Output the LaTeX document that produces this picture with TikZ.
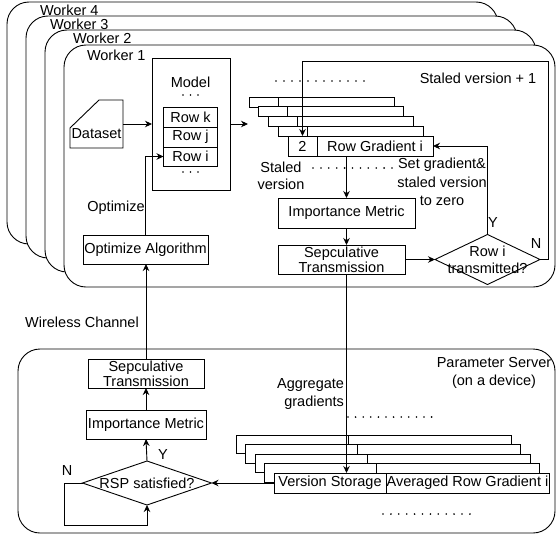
\documentclass[tikz,border=0pt]{standalone}
\usepackage{fontspec}
\setmainfont{Liberation Sans}
\usetikzlibrary{shapes.geometric,arrows.meta}
\begin{document}
\begin{tikzpicture}[x=1pt,y=-1pt, line width=0.9pt,
  every node/.style={font=\fontsize{14.5}{17}\selectfont, inner sep=0pt, outer sep=0pt},
  frame/.style={draw, fill=white, rounded corners=22pt, anchor=north west},
  wframe/.style={frame, minimum width=491, minimum height=242},
  box/.style={draw, fill=white, rectangle},
  dec/.style={draw, fill=white, diamond},
  arr/.style={-{Stealth[length=7pt,width=6.5pt]}},
  tight/.style={align=center, font=\fontsize{14.5}{15}\selectfont},
  layer/.style={draw, fill=white},
  dot/.style={fill=black},
]
\useasboundingbox (0,0) rectangle (556,538);

% ---- worker frames (back to front)
\node[wframe] (w4) at (7,2) {};
\node[anchor=base west] (w4l) at (40,15) {Worker 4};
\node[wframe] (w3) at (26,16) {};
\node[anchor=base west] (w3l) at (50,29) {Worker 3};
\node[wframe] (w2) at (45,30) {};
\node[anchor=base west] (w2l) at (73,43) {Worker 2};
\node[wframe] (w1) at (64,45) {};
\node[anchor=base west] (w1l) at (87,60) {Worker 1};

% ---- dataset
\node[minimum width=53, minimum height=48] (dataset) at (96.5,124) {};
\draw (70,128) -- (99,100) -- (123,100) -- (123,148) -- (70,148) -- cycle;
\node (datasettxt) at (96.5,134) {Dataset};

% ---- model
\node[box, minimum width=78, minimum height=132] (model) at (191,124) {};
\node (modeltxt) at (190.5,82) {Model};
\foreach \x in {183,190.5,198} \fill[dot] (\x,95) circle (0.9);
\node[box, minimum width=54, minimum height=20] (rowk) at (190.5,117) {Row k};
\node[box, minimum width=54, minimum height=20] (rowj) at (190.5,137) {Row j};
\node[box, minimum width=54, minimum height=19] (rowi) at (190.5,156.5) {Row i};
\foreach \x in {183,190.5,198} \fill[dot] (\x,172) circle (0.9);

\draw[arr] (dataset.east) -- (model.west);
\coordinate (stk) at (248,124);
\draw[arr] (model.east) -- (stk);

% ---- worker row-gradient stack
\foreach \x/\y in {249/97, 258.7/106.7, 268.4/116.4, 278.1/126.1} {
  \draw[layer] (\x,\y) rectangle ++(145,10);
  \draw (\x+29,\y) -- ++(0,10);
}
\node[box, minimum width=29, minimum height=20] (two) at (302.5,146) {2};
\node[box, minimum width=116, minimum height=20] (rowgrad) at (375,146) {Row Gradient i};
\foreach \i in {0,...,11} \fill[dot] (276+\i*8,81) circle (0.9);
\foreach \i in {0,...,10} \fill[dot] (313+\i*7.9,168) circle (0.9);

\node (stv1) at (478,78) {Staled version + 1};
\node[align=center, font=\fontsize{14.5}{17.5}\selectfont] (stv) at (281,176) {Staled\\version};
\node[align=center, font=\fontsize{14.5}{18.5}\selectfont] (setg) at (442,182) {Set gradient\&\\staled version\\to zero};

% ---- worker flow
\node[box, minimum width=137, minimum height=30] (wim) at (346.5,213) {Importance Metric};
\node[box, tight, minimum width=127, minimum height=29] (wst) at (341.5,259.5) {Sepculative\\Transmission};
\node[dec, minimum width=105, minimum height=50] (wdec) at (487.5,259.5) {};
\node[align=center, font=\fontsize{14.5}{17}\selectfont] (wdectxt) at (wdec) {Row i\\transmitted?};
\node (wy) at (493,223) {Y};
\node (wn) at (536,244) {N};

\node[box, minimum width=125, minimum height=29] (opt) at (145.5,249.5) {Optimize Algorithm};
\node (opttxt) at (116,208) {Optimize};

\coordinate (nt) at (548,61);
\draw[arr] (wdec.east) -| (nt) -| (two.north);
\draw[arr] (wdec.north) |- (rowgrad.east);
\draw[arr] (rowgrad.south -| wim.north) -- (wim.north);
\draw[arr] (wim.south) -- (wim.south |- wst.north);
\draw[arr] (wst.east) -- (wdec.west);
\draw[arr] (opt.north) |- (rowi.west);

% ---- parameter server
\node[frame, minimum width=537, minimum height=184] (ps) at (18,349) {};
\node[align=center, font=\fontsize{14.5}{18}\selectfont] (pstxt) at (494,373) {Parameter Server\\(on a device)};
\node (wc) at (82,322) {Wireless Channel};

\node[box, tight, minimum width=116, minimum height=29] (psst) at (146,373.5) {Sepculative\\Transmission};
\node[box, minimum width=120, minimum height=29] (psim) at (146,424.5) {Importance Metric};
\node[dec, minimum width=129, minimum height=44] (rsp) at (147,483) {};
\node (rsptxt) at (rsp) {RSP satisfied?};
\node (psy) at (163,455) {Y};
\node (psn) at (67,471) {N};

\foreach \x/\y in {236/435, 245.5/444.5, 255/454, 264.5/463.5} {
  \draw[layer] (\x,\y) rectangle ++(275,18.5);
  \draw (\x+112,\y) -- ++(0,9.5);
}
\node[box, minimum width=112, minimum height=20] (vs) at (330,483) {Version Storage};
\node[box, minimum width=163, minimum height=20] (avg) at (467.5,483) {Averaged Row Gradient i};
\foreach \i in {0,...,11} \fill[dot] (348+\i*7.6,417) circle (0.9);
\foreach \i in {0,...,11} \fill[dot] (383+\i*7.9,514) circle (0.9);
\node[align=right, anchor=east, font=\fontsize{14.5}{18}\selectfont] (agg) at (344,394) {Aggregate\\gradients};

\draw[arr] (vs.west) -- (rsp.east);
\draw[arr] (rsp.north) -- (psim.south);
\draw[arr] (psim.north) -- (psst.south);
\coordinate (pn) at (64,525);
\draw[arr] (rsp.west) -| (pn) -| (rsp.south);

% ---- long connectors
\draw[arr] (psst.north) -- (psst.north |- opt.south);
\draw[arr] (wim.south |- wst.south) -- (wim.south |- vs.north);
\end{tikzpicture}
\end{document}
